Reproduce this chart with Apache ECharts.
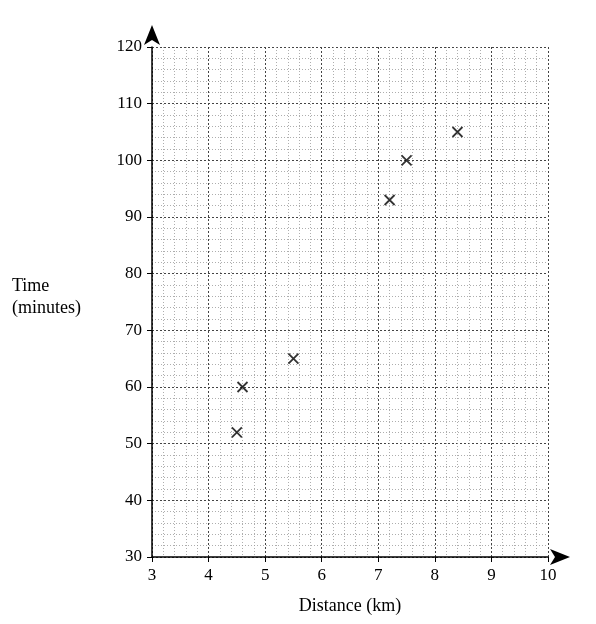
<!DOCTYPE html>
<html><head><meta charset="utf-8">
<script src="https://cdn.jsdelivr.net/npm/echarts@6/dist/echarts.min.js"></script>
<style>html,body{margin:0;padding:0;background:#fff}#c{width:596px;height:624px}</style>
</head><body><div id="c"></div>
<script>
const distance = [4.5, 4.6, 5.5, 7.2, 7.5, 8.4];
const time = [52, 60, 65, 93, 100, 105];
const xTicks = [3,4,5,6,7,8,9,10];
const yTicks = [30,40,50,60,70,80,90,100,110,120];
const font = 'Liberation Serif';
const chart = echarts.init(document.getElementById('c'));
chart.setOption({
  animation:false,
  grid:{left:152,right:48,top:47,bottom:67},
  xAxis:{type:'value',min:xTicks[0],max:xTicks[xTicks.length-1],interval:1,
    name:'Distance (km)',nameLocation:'middle',nameGap:40,
    nameTextStyle:{fontFamily:font,fontSize:18,color:'#000'},
    axisLine:{lineStyle:{color:'#000',width:1.5},symbol:['none','arrow'],symbolSize:[12,20],symbolOffset:[0,22]},
    axisTick:{show:true,length:5,lineStyle:{color:'#000'}},
    axisLabel:{fontFamily:font,fontSize:17,color:'#000',margin:10},
    splitLine:{lineStyle:{color:'#444',type:[2,2],width:1}},
    minorTick:{show:true,splitNumber:5,length:0},
    minorSplitLine:{show:true,lineStyle:{color:'#999',type:[1,2],width:0.8}}},
  yAxis:{type:'value',min:yTicks[0],max:yTicks[yTicks.length-1],interval:10,
    axisLine:{show:true,lineStyle:{color:'#000',width:1.5},symbol:['none','arrow'],symbolSize:[12,20],symbolOffset:[0,22]},
    axisTick:{show:true,length:5,lineStyle:{color:'#000'}},
    axisLabel:{fontFamily:font,fontSize:17,color:'#000',margin:10},
    splitLine:{lineStyle:{color:'#444',type:[2,2],width:1}},
    minorTick:{show:true,splitNumber:5,length:0},
    minorSplitLine:{show:true,lineStyle:{color:'#999',type:[1,2],width:0.8}}},
  graphic:[{type:'text',left:12,top:275,style:{text:'Time\n(minutes)',fontFamily:font,fontSize:18,fill:'#000',lineHeight:22}}],
  series:[{type:'scatter',data:distance.map((d,i)=>[d,time[i]]),
    symbol:'path://M0,0L10,10M10,0L0,10',symbolSize:10,
    itemStyle:{color:'none',borderColor:'#000',borderWidth:1.8}}]
});
</script></body></html>
